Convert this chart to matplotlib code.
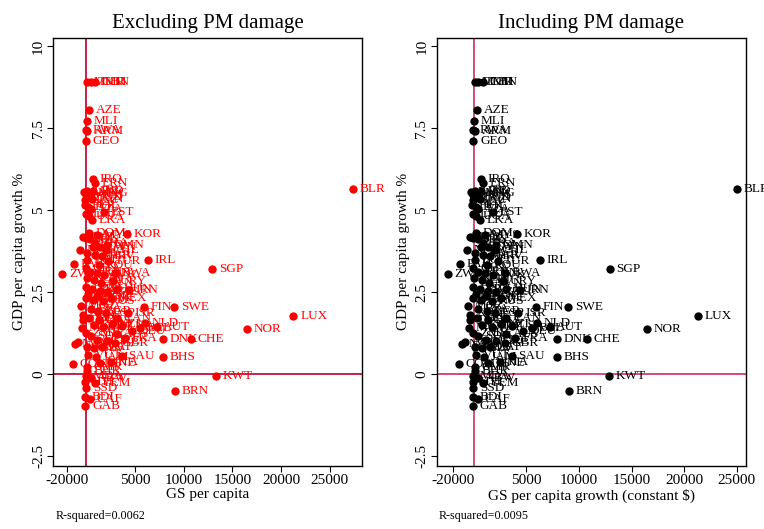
import matplotlib
matplotlib.use("Agg")
import matplotlib.pyplot as plt

plt.rcParams['font.family'] = ['Liberation Serif', 'DejaVu Serif']

countries = ["MMR","TKM","CHN","AZE","MLI","RWA","ARM","GEO","IRQ","ERN",
             "LAO","UZB","MNG","IND","VNM","BGD","KAZ","PAN","PER","POL",
             "TZA","EST","LTU","UGA","LKA","DOM","PHL","IDN","MYS","KOR",
             "BLZ","NPL","EGY","TWN","CHL","LVA","MAR","HRV","IRL","PAK",
             "BOL","TUR","ROU","ZWE","SGP","GHA","SEN","KEN","SVK","BWA",
             "NGA","CRI","SVN","URY","HND","PRY","ARG","CZE","IRN","HUN",
             "CIV","COL","BEN","GTM","RUS","MEX","FIN","SWE","MOZ","BFA",
             "BGR","ESP","ISR","NER","TGO","SLE","BRA","CAN","NLD","AUT",
             "LUX","NOR","DEU","USA","BEL","DNK","CHE","FRA","MWI","ZMB",
             "SDN","ECU","GRC","GBR","MDG","SLV","ZAF","NAM","AGO","SAU",
             "BHS","VUT","JAM","COM","ITA","CMR","BHR","MDA","ABW","KWT",
             "HTI","YEM","SSD","BRN","BDI","CAF","GAB","BLR","MNE","KHM",
             "PRT","NZL","AUS","THA","OMN"]

gs_per_capita = [100, 445, 855, 310, 35, -30, 100, -30, 650, 890,
                 -240, 100, 445, 720, -30, 310, -100, 580, -170, 170,
                 445, 1810, -30, 240, 580, 240, -30, 375, 1060, 4140,
                 -310, -650, 650, 1400, 2020, 100, 890, 1570, 6290, -1265,
                 100, 2260, 1265, -2460, 12930, -30, 375, 1060, 1810, 2940,
                 35, 790, 1470, 2770, -30, 550, 1400, 2150, 4410, 3110,
                 170, 1130, -30, 720, 1740, 2560, 5950, 9000, -580, 445,
                 1230, 2020, 4240, -310, -380, 310, 1330, 3110, 6020, 7220,
                 21270, 16480, 4650, 3630, 5510, 7900, 10740, 3970, -480, -30,
                 445, 1130, 2090, 2940, 100, 790, 1570, -1160, -820, 3630,
                 7900, 205, 990, -1400, 2530, 100, 100, -30, 445, 13340,
                 -100, 890, -30, 9060, -100, 375, -100, 27390, 1400, 790,
                 1740, 2600, 3110, 890, 2090]

gdp_growth = [8.90, 8.90, 8.91, 8.06, 7.72, 7.45, 7.43, 7.12, 5.95, 5.82,
              5.57, 5.60, 5.54, 5.58, 5.47, 5.40, 5.32, 5.34, 5.17, 5.11,
              5.03, 4.96, 4.89, 4.81, 4.71, 4.30, 4.16, 4.12, 4.24, 4.28,
              4.18, 3.79, 3.89, 3.87, 3.79, 3.69, 3.64, 3.59, 3.49, 3.35,
              3.47, 3.46, 3.32, 3.06, 3.20, 3.23, 3.13, 3.08, 3.02, 3.08,
              2.93, 2.88, 2.79, 2.83, 2.65, 2.59, 2.55, 2.51, 2.57, 2.61,
              2.45, 2.39, 2.32, 2.25, 2.22, 2.32, 2.04, 2.04, 2.08, 1.98,
              1.94, 1.88, 1.86, 1.81, 1.64, 1.71, 1.64, 1.71, 1.55, 1.43,
              1.78, 1.37, 1.32, 1.47, 1.40, 1.08, 1.06, 1.10, 1.40, 1.25,
              1.15, 1.05, 1.00, 0.95, 0.82, 0.79, 0.84, 0.91, 0.97, 0.54,
              0.52, 0.59, 0.52, 0.32, 0.36, 0.23, 0.11, -0.07, -0.12, -0.05,
              -0.25, -0.27, -0.41, -0.50, -0.70, -0.76, -0.96, 5.65, 0.34, 1.50,
              1.43, 1.53, 1.23, 4.01, 3.93]

# GS per capita including PM damage: differs only for these countries
gs_pm_changes = {"BLR": 25030, "KWT": 12890}
gs_incl_pm = [gs_pm_changes.get(c, v) for c, v in zip(countries, gs_per_capita)]

titles = ["Excluding PM damage", "Including PM damage"]
xlabels = ["GS per capita", "GS per capita growth (constant $)"]
r2_texts = ["R-squared=0.0062", "R-squared=0.0095"]
xtick_vals = [-2000, 5000, 10000, 15000, 20000, 25000]
xtick_labels = ["-20000", "5000", "10000", "15000", "20000", "25000"]
ytick_vals = [-2.5, 0, 2.5, 5, 7.5, 10]
ytick_labels = ["-2.5", "0", "2.5", "5", "7.5", "10"]

fig = plt.figure(figsize=(7.64, 5.29), dpi=100)
W, H = 764, 529
panels = [
    dict(rect=(53.3, 37.7, 362.3, 465.7), xlim=(-3390, 28340), x=gs_per_capita,
         color="#ff0000", line="#c0103a"),
    dict(rect=(436.7, 37.7, 746.0, 465.7), xlim=(-3520, 25880), x=gs_incl_pm,
         color="#000000", line="#d0406a"),
]

for i, p in enumerate(panels):
    l, t, r, b = p["rect"]
    ax = fig.add_axes([l / W, 1 - b / H, (r - l) / W, (b - t) / H])
    ax.set_xlim(*p["xlim"])
    ax.set_ylim(-2.79, 10.26)
    ax.axvline(0, color=p["line"], lw=1.3, zorder=1)
    ax.axhline(0, color=p["line"], lw=1.3, zorder=1)
    ax.scatter(p["x"], gdp_growth, s=36, color=p["color"], zorder=3, linewidths=0)
    for c, xv, yv in zip(countries, p["x"], gdp_growth):
        ax.annotate(c, (xv, yv), xytext=(4.8, 0), textcoords="offset points",
                    va="center", ha="left", fontsize=9.5, color=p["color"],
                    zorder=4, annotation_clip=False)
    ax.set_xticks(xtick_vals)
    ax.set_xticklabels(xtick_labels, fontsize=11)
    ax.set_yticks(ytick_vals)
    ax.set_yticklabels(ytick_labels, fontsize=11, rotation=90, va="center")
    ax.tick_params(direction="out", length=4, width=0.8, color="black", pad=2)
    for s in ax.spines.values():
        s.set_linewidth(1.0)
        s.set_color("black")
    ax.set_title(titles[i], fontsize=15, pad=7)
    ax.set_xlabel(xlabels[i], fontsize=11, labelpad=1)
    ax.set_ylabel("GDP per capita growth %", fontsize=11, labelpad=4)
    fig.text((l + 2) / W, 1 - 516 / H, r2_texts[i], fontsize=8.7, va="center", ha="left")

fig.savefig("out.png", dpi=100)
